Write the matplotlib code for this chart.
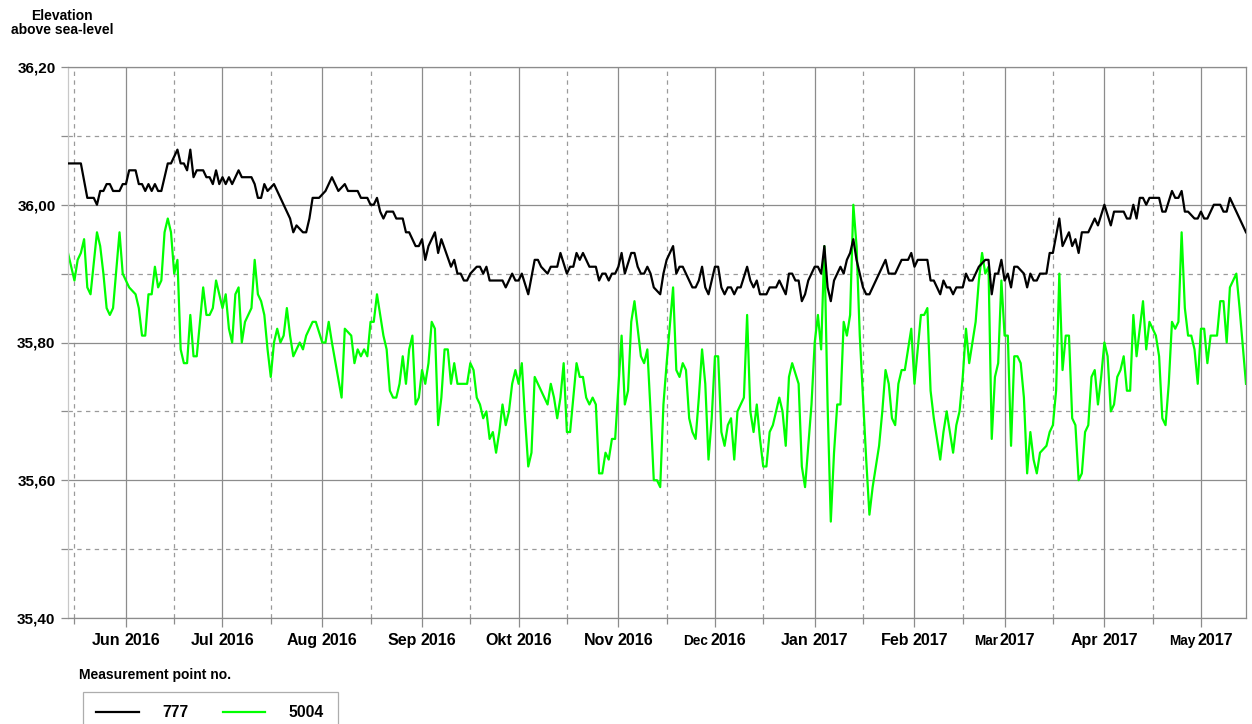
import numpy as np
import pandas as pd
import matplotlib
matplotlib.use('Agg')
import matplotlib.pyplot as plt
import matplotlib.dates as mdates
from matplotlib.ticker import MultipleLocator, FuncFormatter, NullFormatter
from matplotlib.offsetbox import TextArea, HPacker, AnnotationBbox

plt.rcParams['font.family'] = ['Liberation Sans', 'DejaVu Sans']
plt.rcParams['font.weight'] = 'bold'

# series are given as day offsets from the first measurement day
start = pd.Timestamp('2016-05-14')
end = pd.Timestamp('2017-05-15')

days_777 = [0, 4, 6, 8, 9, 10, 11, 12, 13, 14, 16, 17, 18, 19, 21, 22, 23, 24, 25, 26,
            27, 28, 29, 30, 31, 32, 34, 35, 36, 37, 38, 39, 40, 42, 43, 44, 45, 46, 47, 48,
            49, 50, 51, 53, 54, 57, 58, 59, 60, 61, 62, 64, 65, 67, 68, 69, 70, 71, 73, 74,
            75, 76, 78, 80, 82, 84, 86, 87, 90, 91, 93, 94, 95, 96, 97, 98, 99, 101, 102, 104,
            105, 106, 108, 109, 110, 111, 112, 114, 115, 116, 119, 120, 121, 122, 123, 124, 125, 127, 128, 129,
            130, 131, 132, 133, 135, 136, 138, 139, 140, 141, 143, 145, 146, 147, 149, 150, 152, 153, 155, 156,
            157, 158, 159, 160, 162, 164, 165, 166, 167, 168, 169, 170, 171, 172, 173, 175, 176, 177, 178, 179,
            180, 181, 182, 184, 185, 186, 187, 188, 189, 190, 191, 192, 193, 194, 195, 196, 197, 198, 199, 201,
            202, 203, 204, 205, 206, 207, 208, 209, 211, 212, 213, 214, 215, 217, 218, 220, 221, 223, 224, 225,
            226, 227, 228, 229, 230, 232, 233, 234, 235, 236, 237, 238, 239, 240, 241, 242, 243, 244, 245, 246,
            247, 248, 249, 250, 252, 254, 255, 257, 259, 261, 262, 263, 264, 267, 268, 269, 271, 272, 273, 274,
            275, 276, 278, 279, 280, 281, 282, 283, 285, 286, 287, 288, 289, 290, 291, 292, 293, 294, 295, 297,
            298, 299, 300, 301, 302, 304, 305, 306, 308, 309, 311, 312, 313, 314, 315, 317, 318, 319, 320, 322,
            324, 325, 328, 329, 330, 331, 332, 333, 334, 335, 336, 339, 340, 341, 343, 344, 345, 346, 347, 348,
            350, 351, 352, 353, 354, 356, 358, 359, 360, 361, 363, 366]
level_777 = [36.06, 36.06, 36.01, 36.01, 36.00, 36.02, 36.02, 36.03, 36.03, 36.02, 36.02, 36.03, 36.03, 36.05, 36.05, 36.03, 36.03, 36.02, 36.03, 36.02,
             36.03, 36.02, 36.02, 36.04, 36.06, 36.06, 36.08, 36.06, 36.06, 36.05, 36.08, 36.04, 36.05, 36.05, 36.04, 36.04, 36.03, 36.05, 36.03, 36.04,
             36.03, 36.04, 36.03, 36.05, 36.04, 36.04, 36.03, 36.01, 36.01, 36.03, 36.02, 36.03, 36.02, 36.00, 35.99, 35.98, 35.96, 35.97, 35.96, 35.96,
             35.98, 36.01, 36.01, 36.02, 36.04, 36.02, 36.03, 36.02, 36.02, 36.01, 36.01, 36.00, 36.00, 36.01, 35.99, 35.98, 35.99, 35.99, 35.98, 35.98,
             35.96, 35.96, 35.94, 35.94, 35.95, 35.92, 35.94, 35.96, 35.93, 35.95, 35.91, 35.92, 35.90, 35.90, 35.89, 35.89, 35.90, 35.91, 35.91, 35.90,
             35.91, 35.89, 35.89, 35.89, 35.89, 35.88, 35.90, 35.89, 35.89, 35.90, 35.87, 35.92, 35.92, 35.91, 35.90, 35.91, 35.91, 35.93, 35.90, 35.91,
             35.91, 35.93, 35.92, 35.93, 35.91, 35.91, 35.89, 35.90, 35.90, 35.89, 35.90, 35.90, 35.91, 35.93, 35.90, 35.93, 35.93, 35.91, 35.90, 35.90,
             35.91, 35.90, 35.88, 35.87, 35.90, 35.92, 35.93, 35.94, 35.90, 35.91, 35.91, 35.90, 35.89, 35.88, 35.88, 35.89, 35.91, 35.88, 35.87, 35.91,
             35.91, 35.88, 35.87, 35.88, 35.88, 35.87, 35.88, 35.88, 35.91, 35.89, 35.88, 35.89, 35.87, 35.87, 35.88, 35.88, 35.89, 35.87, 35.90, 35.90,
             35.89, 35.89, 35.86, 35.87, 35.89, 35.91, 35.91, 35.90, 35.94, 35.88, 35.86, 35.89, 35.90, 35.91, 35.90, 35.92, 35.93, 35.95, 35.92, 35.90,
             35.88, 35.87, 35.87, 35.88, 35.90, 35.92, 35.90, 35.90, 35.92, 35.92, 35.93, 35.91, 35.92, 35.92, 35.89, 35.89, 35.87, 35.89, 35.88, 35.88,
             35.87, 35.88, 35.88, 35.90, 35.89, 35.89, 35.90, 35.91, 35.92, 35.92, 35.87, 35.90, 35.90, 35.92, 35.89, 35.90, 35.88, 35.91, 35.91, 35.90,
             35.88, 35.90, 35.89, 35.89, 35.90, 35.90, 35.93, 35.93, 35.98, 35.94, 35.96, 35.94, 35.95, 35.93, 35.96, 35.96, 35.97, 35.98, 35.97, 36.00,
             35.97, 35.99, 35.99, 35.98, 35.98, 36.00, 35.98, 36.01, 36.01, 36.00, 36.01, 36.01, 35.99, 35.99, 36.02, 36.01, 36.01, 36.02, 35.99, 35.99,
             35.98, 35.98, 35.99, 35.98, 35.98, 36.00, 36.00, 35.99, 35.99, 36.01, 35.99, 35.96]

days_5004 = [0, 2, 3, 4, 5, 6, 7, 9, 10, 11, 12, 13, 14, 16, 17, 19, 21, 22, 23, 24,
             25, 26, 27, 28, 29, 30, 31, 32, 33, 34, 35, 36, 37, 38, 39, 40, 41, 42, 43, 44,
             45, 46, 47, 48, 49, 50, 51, 52, 53, 54, 55, 56, 57, 58, 59, 60, 61, 62, 63, 64,
             65, 66, 67, 68, 69, 70, 72, 73, 74, 76, 77, 79, 80, 81, 82, 85, 86, 88, 89, 90,
             91, 92, 93, 94, 95, 96, 97, 98, 99, 100, 101, 102, 103, 104, 105, 106, 107, 108, 109, 110,
             111, 112, 113, 114, 115, 116, 117, 118, 119, 120, 121, 124, 125, 126, 127, 128, 129, 130, 131, 132,
             133, 134, 135, 136, 137, 138, 139, 140, 141, 142, 143, 144, 145, 146, 148, 149, 150, 151, 152, 153,
             154, 155, 156, 158, 159, 160, 161, 162, 163, 164, 165, 166, 167, 168, 169, 170, 172, 173, 174, 175,
             176, 177, 178, 179, 180, 181, 182, 183, 184, 185, 186, 188, 189, 190, 191, 192, 193, 194, 195, 196,
             197, 198, 199, 200, 201, 202, 203, 204, 205, 206, 207, 208, 209, 210, 211, 212, 213, 214, 215, 216,
             217, 218, 219, 220, 221, 222, 223, 224, 225, 227, 228, 229, 230, 231, 232, 233, 234, 235, 236, 237,
             238, 239, 240, 241, 242, 243, 244, 245, 246, 248, 249, 250, 252, 253, 254, 255, 256, 257, 258, 259,
             260, 262, 263, 265, 266, 267, 268, 269, 271, 272, 273, 274, 275, 276, 277, 278, 279, 280, 281, 282,
             283, 284, 285, 286, 287, 288, 289, 290, 291, 292, 293, 294, 295, 296, 297, 298, 299, 300, 301, 302,
             304, 305, 306, 307, 308, 309, 310, 311, 312, 313, 314, 315, 316, 317, 318, 319, 320, 321, 322, 323,
             324, 325, 326, 327, 328, 329, 330, 331, 332, 334, 335, 336, 337, 338, 339, 340, 341, 342, 343, 344,
             345, 346, 347, 348, 349, 350, 351, 352, 353, 354, 355, 357, 358, 359, 360, 361, 362, 363, 364, 366]
level_5004 = [35.93, 35.89, 35.92, 35.93, 35.95, 35.88, 35.87, 35.96, 35.94, 35.90, 35.85, 35.84, 35.85, 35.96, 35.90, 35.88, 35.87, 35.85, 35.81, 35.81,
              35.87, 35.87, 35.91, 35.88, 35.89, 35.96, 35.98, 35.96, 35.90, 35.92, 35.79, 35.77, 35.77, 35.84, 35.78, 35.78, 35.83, 35.88, 35.84, 35.84,
              35.85, 35.89, 35.87, 35.85, 35.87, 35.82, 35.80, 35.87, 35.88, 35.80, 35.83, 35.84, 35.85, 35.92, 35.87, 35.86, 35.84, 35.79, 35.75, 35.80,
              35.82, 35.80, 35.81, 35.85, 35.81, 35.78, 35.80, 35.79, 35.81, 35.83, 35.83, 35.80, 35.80, 35.83, 35.80, 35.72, 35.82, 35.81, 35.77, 35.79,
              35.78, 35.79, 35.78, 35.83, 35.83, 35.87, 35.84, 35.81, 35.79, 35.73, 35.72, 35.72, 35.74, 35.78, 35.74, 35.79, 35.81, 35.71, 35.72, 35.76,
              35.74, 35.77, 35.83, 35.82, 35.68, 35.72, 35.79, 35.79, 35.74, 35.77, 35.74, 35.74, 35.77, 35.76, 35.72, 35.71, 35.69, 35.70, 35.66, 35.67,
              35.64, 35.67, 35.71, 35.68, 35.70, 35.74, 35.76, 35.74, 35.77, 35.69, 35.62, 35.64, 35.75, 35.74, 35.72, 35.71, 35.74, 35.72, 35.69, 35.72,
              35.77, 35.67, 35.67, 35.77, 35.75, 35.75, 35.72, 35.71, 35.72, 35.71, 35.61, 35.61, 35.64, 35.63, 35.66, 35.66, 35.81, 35.71, 35.73, 35.83,
              35.86, 35.82, 35.78, 35.77, 35.79, 35.70, 35.60, 35.60, 35.59, 35.71, 35.77, 35.88, 35.76, 35.75, 35.77, 35.76, 35.69, 35.67, 35.66, 35.72,
              35.79, 35.74, 35.63, 35.69, 35.78, 35.78, 35.67, 35.65, 35.68, 35.69, 35.63, 35.70, 35.71, 35.72, 35.84, 35.70, 35.67, 35.71, 35.66, 35.62,
              35.62, 35.67, 35.68, 35.70, 35.72, 35.70, 35.65, 35.75, 35.77, 35.74, 35.62, 35.59, 35.65, 35.71, 35.80, 35.84, 35.79, 35.94, 35.71, 35.54,
              35.64, 35.71, 35.71, 35.83, 35.81, 35.84, 36.00, 35.94, 35.81, 35.63, 35.55, 35.59, 35.65, 35.70, 35.76, 35.74, 35.69, 35.68, 35.74, 35.76,
              35.76, 35.82, 35.74, 35.84, 35.84, 35.85, 35.73, 35.69, 35.63, 35.67, 35.70, 35.67, 35.64, 35.68, 35.70, 35.75, 35.82, 35.77, 35.80, 35.83,
              35.89, 35.93, 35.90, 35.91, 35.66, 35.75, 35.77, 35.89, 35.81, 35.81, 35.65, 35.78, 35.78, 35.77, 35.72, 35.61, 35.67, 35.63, 35.61, 35.64,
              35.65, 35.67, 35.68, 35.73, 35.90, 35.76, 35.81, 35.81, 35.69, 35.68, 35.60, 35.61, 35.67, 35.68, 35.75, 35.76, 35.71, 35.75, 35.80, 35.78,
              35.70, 35.71, 35.75, 35.76, 35.78, 35.73, 35.73, 35.84, 35.78, 35.86, 35.79, 35.83, 35.82, 35.81, 35.78, 35.69, 35.68, 35.74, 35.83, 35.82,
              35.83, 35.96, 35.85, 35.81, 35.81, 35.79, 35.74, 35.82, 35.82, 35.77, 35.81, 35.81, 35.86, 35.86, 35.80, 35.88, 35.89, 35.90, 35.85, 35.74]

month_names = ['Jan', 'Feb', 'Mar', 'Apr', 'May', 'Jun', 'Jul', 'Aug', 'Sep', 'Okt', 'Nov', 'Dec']
small_months = ['Mar', 'May', 'Dec']   # these month names are printed in a smaller font
month_ticks = pd.date_range('2016-06-01', '2017-05-01', freq='MS')

t777 = start + pd.to_timedelta(days_777, unit='D')
t5004 = start + pd.to_timedelta(days_5004, unit='D')

grid_c = '#8c8c8c'

fig = plt.figure(figsize=(12.52, 7.24), dpi=100)
ax = fig.add_axes([68 / 1252, 106 / 724, 1178 / 1252, 551 / 724])

l1, = ax.plot(t777, level_777, color='black', lw=1.6, label='777', zorder=3)
l2, = ax.plot(t5004, level_5004, color='#00ff00', lw=1.6, label='5004', zorder=2)

ax.set_xlim(start, end)
ax.set_ylim(35.40, 36.20)

ax.yaxis.set_major_locator(MultipleLocator(0.2))
ax.yaxis.set_minor_locator(MultipleLocator(0.1))
ax.yaxis.set_major_formatter(FuncFormatter(lambda v, p: f'{v:.2f}'.replace('.', ',')))

ax.xaxis.set_major_locator(mdates.MonthLocator())
ax.xaxis.set_minor_locator(mdates.MonthLocator(bymonthday=16))
ax.xaxis.set_major_formatter(NullFormatter())

# month labels: month name + year, sharing the baseline
for d in month_ticks:
    m = month_names[d.month - 1]
    msize = 9.8 if m in small_months else 11.5
    sep = 1.5 if m in small_months else 2.8
    box = HPacker(children=[TextArea(m, textprops=dict(fontsize=msize, fontweight='bold')),
                            TextArea(str(d.year), textprops=dict(fontsize=11.5, fontweight='bold'))],
                  align='baseline', pad=0, sep=sep)
    ab = AnnotationBbox(box, (mdates.date2num(d), 0), xycoords=ax.get_xaxis_transform(),
                        xybox=(0, -10.5), boxcoords='offset points', box_alignment=(0.5, 1),
                        frameon=False, annotation_clip=False)
    ax.add_artist(ab)

ax.grid(which='major', color=grid_c, lw=0.9, ls='-', zorder=0)
ax.grid(which='minor', color='#9a9a9a', lw=0.9, ls=(0, (3.5, 3.5)), zorder=0)

ax.tick_params(axis='x', which='major', length=6.5, width=0.9, color=grid_c)
ax.tick_params(axis='x', which='minor', length=4, width=0.9, color=grid_c)
ax.tick_params(axis='y', which='both', length=5, width=0.9, color=grid_c, pad=4, labelsize=11)
for lab in ax.get_yticklabels():
    lab.set_fontweight('bold')

for s in ax.spines.values():
    s.set_color(grid_c)
    s.set_linewidth(0.9)
ax.spines['left'].set_color('#c8c8c8')

fig.text(62 / 1252, 1 - 23 / 724, 'Elevation\nabove sea-level', ha='center', va='center',
         fontsize=10, fontweight='bold', linespacing=1.05)
fig.text(79 / 1252, 1 - 675 / 724, 'Measurement point no.', ha='left', va='center',
         fontsize=10, fontweight='bold')

leg = fig.legend(handles=[l1, l2], loc='upper left', bbox_to_anchor=(83 / 1252, 1 - 692 / 724),
                 ncol=2, frameon=True, fancybox=False, edgecolor='#999999', borderaxespad=0,
                 handlelength=2.7, handletextpad=1.5, columnspacing=2.2, borderpad=0.85,
                 prop={'weight': 'bold', 'size': 11.3})
leg.get_frame().set_linewidth(0.9)

fig.savefig('out.png', dpi=100)
